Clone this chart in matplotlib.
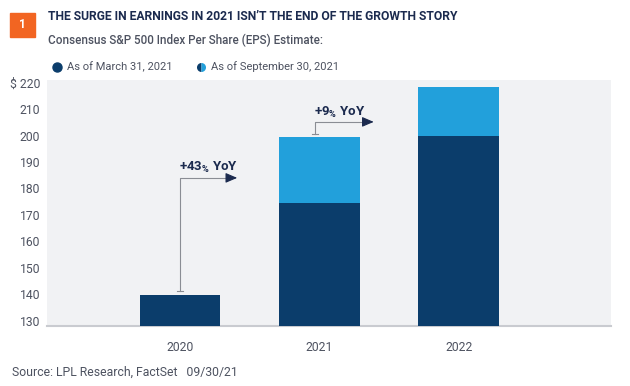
import matplotlib.pyplot as plt
from matplotlib.lines import Line2D

# data
years = ['2020', '2021', '2022']
eps_march = [139.5, 174.6, 200.0]
eps_sept = [139.5, 199.5, 218.5]
yticks = [130, 140, 150, 160, 170, 180, 190, 200, 210, 220]
ytick_labels = ['130', '140', '150', '160', '170', '180', '190', '200', '210', '$ 220']

navy = '#0b3d6b'
light = '#22a0db'
title_col = '#1b2a4e'
grey_txt = '#4d5260'

plt.rcParams['font.family'] = ['Roboto', 'DejaVu Sans']

fig = plt.figure(figsize=(6.3, 3.86), dpi=100)
ax = fig.add_axes([0.0746, 0.156, 0.8954, 0.637])
ax.set_facecolor('#f1f2f4')

x = range(len(years))
ax.bar(x, eps_sept, width=0.58, color=light, zorder=2)
ax.bar(x, eps_march, width=0.58, color=navy, zorder=3)

ax.set_xlim(-0.955, 3.094)
ax.set_ylim(128, 221.1)
ax.set_yticks(yticks)
ax.set_yticklabels(ytick_labels)
ax.set_xticks(list(x))
ax.set_xticklabels(years)
ax.tick_params(axis='both', length=0, labelsize=8.7, colors=grey_txt)
ax.tick_params(axis='y', pad=5)
ax.tick_params(axis='x', pad=11)
for s in ['top', 'right', 'left']:
    ax.spines[s].set_visible(False)
ax.spines['bottom'].set_color('#c9cbd0')
ax.spines['bottom'].set_linewidth(1.5)

# growth arrows
def growth_arrow(x0, y0, y1, x1, label, tx, ty):
    ax.plot([x0, x0, x1 - 0.06], [y0, y1, y1], color='#8a8d94', lw=0.8, zorder=4)
    ax.plot([x0 - 0.02, x0 + 0.02], [y0, y0], color='#8a8d94', lw=0.8, zorder=4)
    ax.annotate('', xy=(x1, y1), xytext=(x1 - 0.08, y1),
                arrowprops=dict(arrowstyle='-|>,head_length=0.7,head_width=0.3',
                                color=title_col, lw=0.8), zorder=5)
    ax.text(tx, ty, label, fontsize=9.5, fontweight='bold', color=title_col,
            ha='left', va='center', zorder=5)

growth_arrow(0.0, 141.0, 184.0, 0.43, '+43$\\mathregular{_{\\%}}$ YoY', -0.01, 188.0)
growth_arrow(0.97, 200.8, 205.2, 1.41, '+9$\\mathregular{_{\\%}}$ YoY', 0.96, 208.8)

# header
fig.patches.append(plt.Rectangle((10 / 630, 1 - 37 / 386), 25 / 630, 24 / 386,
                                 transform=fig.transFigure, color='#f26522'))
fig.text(22.5 / 630, 1 - 25 / 386, '1', color='white', fontsize=8.5,
         fontweight='bold', ha='center', va='center')
fig.text(48 / 630, 1 - 17 / 386,
         "THE SURGE IN EARNINGS IN 2021 ISN\u2019T THE END OF THE GROWTH STORY",
         fontsize=8.7, fontweight='bold', color=title_col, va='center')
fig.text(48 / 630, 1 - 40 / 386, 'Consensus S&P 500 Index Per Share (EPS) Estimate:',
         fontsize=8.35, fontweight='medium', color=grey_txt, va='center')

# legend
handles = [
    Line2D([], [], marker='o', ls='', color=navy, markersize=6.5),
    Line2D([], [], marker='o', ls='', color=navy, markerfacecolor=navy,
           markerfacecoloralt=light, fillstyle='left', markeredgewidth=0,
           markersize=6.5),
]
fig.legend(handles, ['As of March 31, 2021', 'As of September 30, 2021'],
           loc='center left', bbox_to_anchor=(41.5 / 630, 1 - 67 / 386), ncol=2,
           frameon=False, fontsize=8, handletextpad=0.4, columnspacing=2.1,
           handlelength=1.0, labelcolor=grey_txt)

fig.text(12 / 630, 1 - 372 / 386, 'Source: LPL Research, FactSet   09/30/21',
         fontsize=8.8, color=grey_txt, va='center')

plt.savefig('out.png', dpi=100)
